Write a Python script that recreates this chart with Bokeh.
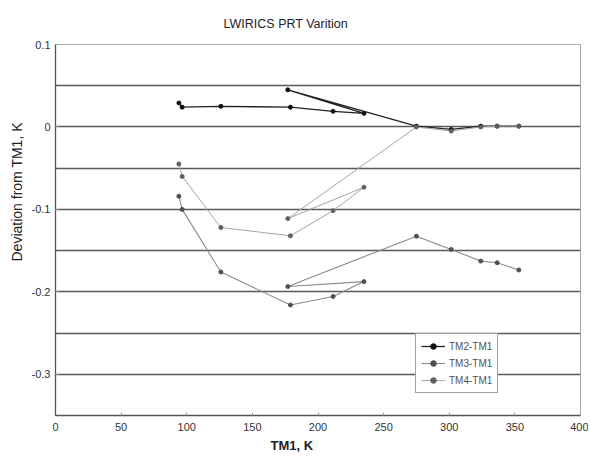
from bokeh.plotting import figure
from bokeh.models import Range1d, FixedTicker, Legend, LegendItem, Title
from bokeh.embed import file_html
from bokeh.resources import INLINE

# Data
tm1_k = [94, 96.5, 126, 179, 211.5, 235, 177, 275, 301.5, 324, 336.5, 353]
tm2_tm1 = [0.029, 0.024, 0.025, 0.024, 0.019, 0.0165, 0.045, 0.001, -0.003, 0.001, 0.001, 0.001]
tm3_tm1 = [-0.084, -0.100, -0.176, -0.216, -0.2056, -0.1876, -0.1936, -0.1325, -0.1486, -0.1627, -0.1647, -0.1735]
tm4_tm1 = [-0.045, -0.060, -0.122, -0.132, -0.1016, -0.0731, -0.1112, 0.0, -0.005, 0.0, 0.001, 0.001]

x_ticks = [0, 50, 100, 150, 200, 250, 300, 350, 400]
y_ticks = [0.1, 0.0, -0.1, -0.2, -0.3]
y_tick_labels = {0.1: "0.1", 0.0: "0", -0.1: "-0.1", -0.2: "-0.2", -0.3: "-0.3"}
y_grid = [0.05, 0.0, -0.05, -0.1, -0.15, -0.2, -0.25, -0.3]

FONT = "Liberation Sans"

p = figure(width=588, height=455, x_range=Range1d(0, 400), y_range=Range1d(-0.35, 0.1),
           output_backend="svg", toolbar_location=None,
           min_border_left=55, min_border_right=8, min_border_top=44, min_border_bottom=40)

p.title.text = "LWIRICS PRT Varition"
p.title.align = "left"
p.title.offset = 168
p.title.vertical_align = "top"
p.title.text_font = FONT
p.title.text_font_size = "12.5px"
p.title.text_font_style = "normal"
p.title.text_color = "#222222"
p.title.standoff = 23

p.outline_line_color = "#aaaaaa"
p.background_fill_color = "white"

p.xaxis.ticker = FixedTicker(ticks=x_ticks)
p.yaxis.ticker = FixedTicker(ticks=y_ticks)
p.yaxis.major_label_overrides = y_tick_labels
p.xgrid.visible = False
p.ygrid.ticker = FixedTicker(ticks=y_grid)
p.ygrid.grid_line_color = "#5a5a5a"
p.ygrid.grid_line_width = 1.5

for ax in (p.xaxis[0], p.yaxis[0]):
    ax.axis_line_color = "#555555"
    ax.axis_line_width = 1.3
    ax.major_tick_line_color = "#999999"
    ax.major_tick_out = 0
    ax.major_tick_in = 3
    ax.minor_tick_line_color = None
    ax.major_label_text_font = FONT
    ax.major_label_text_font_size = "11px"
    ax.major_label_text_color = "#333333"

p.xaxis.major_label_standoff = 7
p.yaxis.major_label_standoff = 5

# Axis titles (placed off-centre as in the reference)
ytitle = Title(text="Deviation from TM1, K", align="left", offset=154,
               text_font=FONT, text_font_size="14px", text_font_style="normal",
               text_color="#222222", standoff=7)
p.add_layout(ytitle, "left")
xtitle = Title(text="TM1, K", align="left", offset=215,
               text_font=FONT, text_font_size="13px", text_font_style="bold",
               text_color="#222222", standoff=5)
p.add_layout(xtitle, "below")

r2l = p.line(tm1_k, tm2_tm1, line_color="#222222", line_width=1.3)
r2s = p.scatter(tm1_k, tm2_tm1, marker="circle", size=4, fill_color="#111111", line_color="#111111")
r3l = p.line(tm1_k, tm3_tm1, line_color="#8a8a8a", line_width=1.1)
r3s = p.scatter(tm1_k, tm3_tm1, marker="circle", size=4, fill_color="#505050", line_color="#505050")
r4l = p.line(tm1_k, tm4_tm1, line_color="#a5a5a5", line_width=1.0)
r4s = p.scatter(tm1_k, tm4_tm1, marker="circle", size=4, fill_color="#606060", line_color="#606060")

legend = Legend(items=[
    LegendItem(label="TM2-TM1", renderers=[r2l, r2s]),
    LegendItem(label="TM3-TM1", renderers=[r3l, r3s]),
    LegendItem(label="TM4-TM1", renderers=[r4l, r4s]),
], location=(360, 22))
legend.label_text_font = FONT
legend.label_text_font_size = "10px"
legend.label_text_color = "#555555"
legend.glyph_width = 24
legend.glyph_height = 14
legend.label_height = 14
legend.label_standoff = 4
legend.spacing = 3
legend.padding = 5
legend.margin = 0
legend.border_line_color = "#444444"
legend.border_line_width = 1
legend.background_fill_alpha = 1.0
p.add_layout(legend, "center")

open("out.html", "w").write(file_html(p, INLINE))
